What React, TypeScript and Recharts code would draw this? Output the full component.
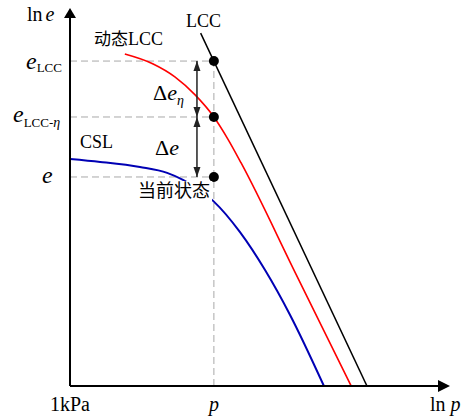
import React from "react";
import {
  ComposedChart,
  Line,
  XAxis,
  YAxis,
  ReferenceLine,
  ReferenceDot,
} from "recharts";

// ln p / ln e in arbitrary units (0..100 on both axes)
const P = 39.1;
const E_LCC = 88.3;
const E_ETA = 73.1;
const E_CUR = 56.8;
const ARROW_X = 34.5;

const lccLine = [
  { x: 35.5, y: 95.9 },
  { x: 80.7, y: 0 },
];

const dynamicLcc = [
  { x: 14.9, y: 90.2 },
  { x: 22.6, y: 87.5 },
  { x: 28.5, y: 84.0 },
  { x: 34.0, y: 79.1 },
  { x: 39.1, y: 73.1 },
  { x: 42.9, y: 67.1 },
  { x: 46.5, y: 60.6 },
  { x: 61.4, y: 30.4 },
  { x: 76.4, y: 0 },
];

const cslLine = [
  { x: 0, y: 61.7 },
  { x: 8.2, y: 60.9 },
  { x: 19.0, y: 59.5 },
  { x: 26.4, y: 57.9 },
  { x: 30.7, y: 56.0 },
  { x: 38.9, y: 50.3 },
  { x: 46.2, y: 41.8 },
  { x: 53.0, y: 31.5 },
  { x: 59.8, y: 19.3 },
  { x: 69.0, y: 0 },
];

const xTickValues = [0, P];
const xTickLabels = ["1kPa", "p"];
const yTickValues = [E_LCC, E_ETA, E_CUR];
const yTickSubscripts = ["LCC", "LCC-η", ""];
const stateLevels = [E_LCC, E_ETA, E_CUR];

const SERIF = '"Liberation Serif", "Times New Roman", serif';
const CJK = '"Noto Sans CJK SC", sans-serif';
const DASH = "#a8a8a8";

const renderXTick = (props: any) => {
  const { x, payload } = props;
  const i = xTickValues.indexOf(payload.value);
  const label = xTickLabels[i];
  return (
    <text x={x} y={411} textAnchor="middle" fontFamily={SERIF} fontSize={20} fill="#000"
      fontStyle={label === "p" ? "italic" : "normal"}>
      {label}
    </text>
  );
};

// per-label placement of the e / e_LCC / e_LCC-η ticks
const yTickLayout = [
  { x: 26, dy: 8, subDy: 3 },
  { x: 13, dy: 5, subDy: 5 },
  { x: 42, dy: 6, subDy: 0 },
];

const renderYTick = (props: any) => {
  const { y, payload } = props;
  const i = yTickValues.indexOf(payload.value);
  const layout = yTickLayout[i];
  const sub = yTickSubscripts[i];
  return (
    <text x={layout.x} y={y + layout.dy} fontFamily={SERIF} fontSize={24} fill="#000">
      <tspan fontStyle="italic">e</tspan>
      {sub && (
        <tspan fontSize={13} dy={layout.subDy}>
          {sub.replace("η", "")}
          {sub.includes("η") && <tspan fontStyle="italic" fontSize={14}>η</tspan>}
        </tspan>
      )}
    </text>
  );
};

const axisArrowRight = (props: any) => (
  <polygon points={`${props.cx},${props.cy - 6} ${props.cx + 12},${props.cy} ${props.cx},${props.cy + 6}`} fill="#000" />
);
const axisArrowUp = (props: any) => (
  <polygon points={`${props.cx - 6},${props.cy} ${props.cx},${props.cy - 10} ${props.cx + 6},${props.cy}`} fill="#000" />
);
const headUp = (props: any) => (
  <polygon points={`${props.cx - 3.5},${props.cy + 10} ${props.cx},${props.cy} ${props.cx + 3.5},${props.cy + 10}`} fill="#222" />
);
const headDown = (props: any) => (
  <polygon points={`${props.cx - 3.5},${props.cy - 10} ${props.cx},${props.cy} ${props.cx + 3.5},${props.cy - 10}`} fill="#222" />
);

export default function App() {
  return (
    <div style={{ position: "absolute", left: 0, top: 0, width: 468, height: 416, background: "#fff" }}>
      <ComposedChart width={468} height={416} margin={{ top: 18, right: 30, bottom: 0, left: 0 }}>
        <XAxis
          type="number"
          dataKey="x"
          domain={[0, 100]}
          ticks={xTickValues}
          tick={renderXTick}
          tickLine={false}
          axisLine={{ stroke: "#000", strokeWidth: 2 }}
          height={30}
          allowDataOverflow
        />
        <YAxis
          type="number"
          dataKey="y"
          domain={[0, 100]}
          ticks={yTickValues}
          tick={renderYTick}
          tickLine={false}
          axisLine={{ stroke: "#000", strokeWidth: 2 }}
          width={70}
          allowDataOverflow
        />

        {/* guide lines to the three states */}
        {stateLevels.map((lv) => (
          <ReferenceLine key={`h${lv}`} segment={[{ x: 0, y: lv }, { x: P, y: lv }]}
            stroke={DASH} strokeWidth={1} strokeDasharray="7 4" />
        ))}
        <ReferenceLine segment={[{ x: P, y: 0 }, { x: P, y: E_LCC }]}
          stroke={DASH} strokeWidth={1} strokeDasharray="7 4" />

        <Line data={lccLine} dataKey="y" type="linear" stroke="#000" strokeWidth={1.5}
          dot={false} isAnimationActive={false} />
        <Line data={dynamicLcc} dataKey="y" type="monotone" stroke="#ff0000" strokeWidth={1.6}
          dot={false} isAnimationActive={false} />
        <Line data={cslLine} dataKey="y" type="monotone" stroke="#0000b4" strokeWidth={2}
          dot={false} isAnimationActive={false} />

        {/* Δe_η and Δe double arrows */}
        <ReferenceLine segment={[{ x: ARROW_X, y: E_LCC }, { x: ARROW_X, y: E_ETA }]} stroke="#222" strokeWidth={1.5} />
        <ReferenceLine segment={[{ x: ARROW_X, y: E_ETA }, { x: ARROW_X, y: E_CUR }]} stroke="#222" strokeWidth={1.5} />
        <ReferenceDot x={ARROW_X} y={E_LCC} shape={headUp} ifOverflow="visible" />
        <ReferenceDot x={ARROW_X} y={E_ETA} shape={headDown} ifOverflow="visible" />
        <ReferenceDot x={ARROW_X} y={E_ETA} shape={headUp} ifOverflow="visible" />
        <ReferenceDot x={ARROW_X} y={E_CUR} shape={headDown} ifOverflow="visible" />

        {stateLevels.map((lv) => (
          <ReferenceDot key={`d${lv}`} x={P} y={lv} r={5} fill="#000" stroke="none" ifOverflow="visible" />
        ))}

        <ReferenceDot x={100} y={0} shape={axisArrowRight} ifOverflow="visible" />
        <ReferenceDot x={0} y={100} shape={axisArrowUp} ifOverflow="visible" />
      </ComposedChart>

      <svg width={468} height={416} style={{ position: "absolute", left: 0, top: 0, pointerEvents: "none" }}>
        <g fontFamily={SERIF} fill="#000">
          <text x={27} y={21} fontSize={20}>
            ln<tspan dx={3} fontStyle="italic">e</tspan>
          </text>
          <text x={186} y={27} fontSize={18}>LCC</text>
          <text x={94} y={45} fontSize={18}>
            <tspan fontFamily={CJK} fontSize={17}>动态</tspan>LCC
          </text>
          <text x={80} y={148} fontSize={18}>CSL</text>
          <text x={153} y={100} fontSize={22}>
            Δ<tspan fontStyle="italic">e</tspan>
            <tspan fontStyle="italic" fontSize={14} dy={5}>η</tspan>
          </text>
          <text x={155} y={155} fontSize={22}>
            Δ<tspan fontStyle="italic">e</tspan>
          </text>
          <rect x={137} y={181} width={75} height={20} fill="#fff" />
          <text x={138} y={197} fontSize={18} fontFamily={CJK}>当前状态</text>
          <text x={430} y={411} fontSize={20}>
            ln <tspan fontStyle="italic">p</tspan>
          </text>
        </g>
      </svg>
    </div>
  );
}
